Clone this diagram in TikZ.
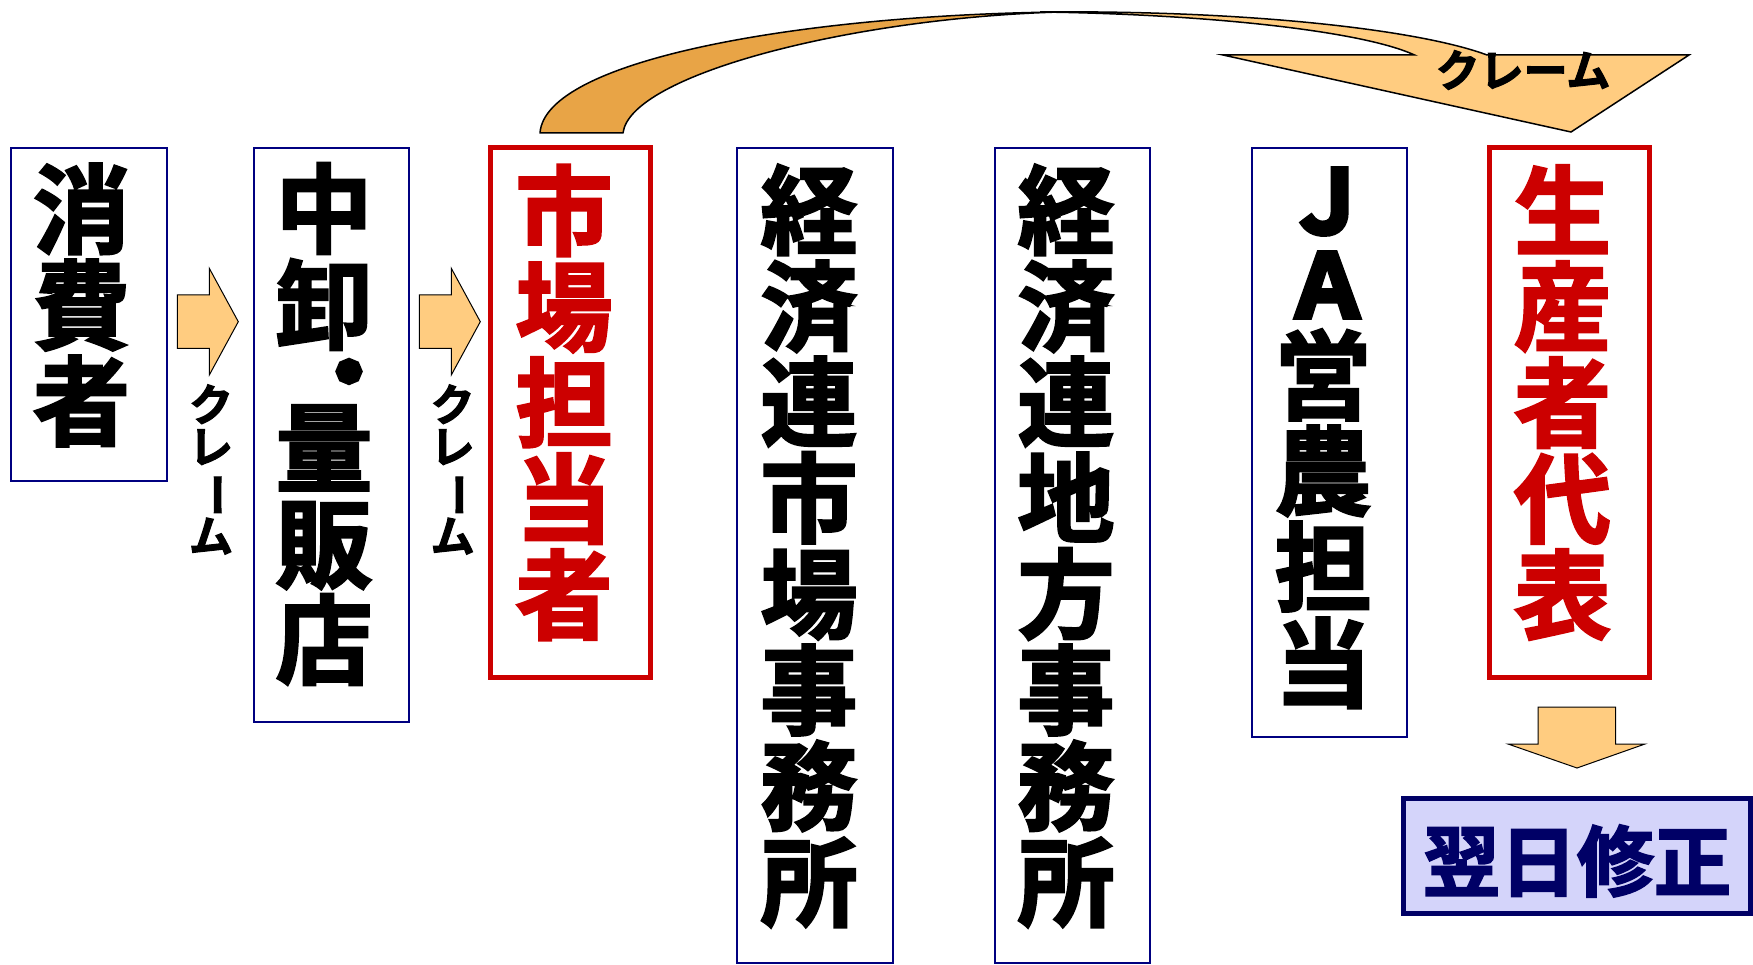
\documentclass[tikz,border=0pt]{standalone}
\usepackage{fontspec}
\usepackage{graphicx}
\newfontfamily\jp{Noto Sans CJK JP}[UprightFont=* Bold, FakeBold=2.5]
\newfontfamily\jpsm{Noto Sans CJK JP}[UprightFont=* Bold, FakeBold=2.5]
\newfontfamily\jplat{Noto Sans CJK JP}[UprightFont=* Bold, FakeBold=6]
\newfontfamily\jpdot{Noto Sans CJK JP}[UprightFont=* Bold, FakeBold=40]
\definecolor{navy}{HTML}{000080}
\definecolor{darknavy}{HTML}{000066}
\definecolor{myred}{HTML}{CC0000}
\definecolor{peach}{HTML}{FFCC80}
\definecolor{darkpeach}{HTML}{E8A446}
\definecolor{lav}{HTML}{D4D4FA}
\tikzset{
  nbox/.style={draw=navy, line width=2pt, rectangle, inner sep=0pt},
  rbox/.style={draw=myred, line width=5pt, rectangle, inner sep=0pt},
  bigtxt/.style={font={\jp\fontsize{97}{96}\selectfont}, align=center, inner sep=0pt},
  midtxt/.style={font={\jplat\fontsize{87}{87}\selectfont}, align=center, inner sep=0pt},
  dottxt/.style={font={\jpdot\fontsize{40}{40}\selectfont}, inner sep=0pt},
  smalltxt/.style={font={\jpsm\fontsize{44}{42}\selectfont}, align=center, inner sep=0pt},
  blockarrow/.style={draw=black, line width=1pt, fill=peach, line join=miter},
}
\newcommand{\vbar}{\rotatebox[origin=c]{-90}{ー}}
\begin{document}
\begin{tikzpicture}[x=1pt,y=-1pt]
\useasboundingbox (0,0) rectangle (1753,965);
% boxes
\node[nbox, minimum width=156pt, minimum height=333pt] (b1) at (89,314.5) {};
\node[nbox, minimum width=155pt, minimum height=574pt] (b2) at (331,435) {};
\node[rbox, minimum width=160pt, minimum height=529.7pt] (b3) at (570.5,412.65) {};
\node[nbox, minimum width=156pt, minimum height=815pt] (b4) at (815,555.5) {};
\node[nbox, minimum width=155.5pt, minimum height=815pt] (b5) at (1072.25,555.5) {};
\node[nbox, minimum width=155pt, minimum height=589pt] (b6) at (1329.5,442.5) {};
\node[rbox, minimum width=160pt, minimum height=529.7pt] (b7) at (1569.5,412.65) {};
\node[draw=darknavy, fill=lav, line width=5pt, rectangle, inner sep=0pt, minimum width=347pt, minimum height=115pt] (b8) at (1576.5,856) {};
% texts
\node[bigtxt] (t1) at (81.5,305) {消\\費\\者};
\node[bigtxt] (t2a) at (324,256.5) {中\\卸};
\node[dottxt] (t2b) at (349,376.5) {・};
\node[bigtxt] (t2c) at (324,545) {量\\販\\店};
\node[bigtxt, text=myred] (t3) at (564,402.5) {市\\場\\担\\当\\者};
\node[bigtxt] (t4) at (809,546) {経\\済\\連\\市\\場\\事\\務\\所};
\node[bigtxt] (t5) at (1066,546) {経\\済\\連\\地\\方\\事\\務\\所};
\node[midtxt] (t6a) at (1327,201.5) {Ｊ};
\node[midtxt] (t6b) at (1327.5,285) {Ａ};
\node[bigtxt] (t6c) at (1323,518.75) {営\\農\\担\\当};
\node[bigtxt, text=myred] (t7) at (1562.5,402.5) {生\\産\\者\\代\\表};
\node[font={\jp\fontsize{77}{80}\selectfont}, text=darknavy, inner sep=0pt] (t8) at (1577,861) {翌日修正};
% right block arrows
\draw[blockarrow] (177.3,295) -- (209.3,295) -- (209.3,268.3) -- (238.3,321.7) -- (209.3,375) -- (209.3,348.3) -- (177.3,348.3) -- cycle;
\begin{scope}[xshift=242pt]
\draw[blockarrow] (177.3,295) -- (209.3,295) -- (209.3,268.3) -- (238.3,321.7) -- (209.3,375) -- (209.3,348.3) -- (177.3,348.3) -- cycle;
\end{scope}
\node[smalltxt] (l1) at (211,469.5) {ク\\レ\\\vbar\\ム};
\node[smalltxt] (l2) at (452.6,469.5) {ク\\レ\\\vbar\\ム};
% down block arrow
\draw[blockarrow] (1538,707) -- (1615.5,707) -- (1615.5,744) -- (1645,744) -- (1577,768) -- (1508,744) -- (1538,744) -- cycle;
% curved arrow: dark back part
\draw[line width=1.5pt, fill=darkpeach, line join=round] (540,133) .. controls (545,60) and (800,15) .. (1060,12)
  .. controls (850,18) and (630,75) .. (623,133) -- cycle;
% light front part with head
\draw[line width=1.5pt, fill=peach, line join=miter] (1040,12) .. controls (1250,10) and (1420,30) .. (1487,55)
  -- (1689,55) -- (1571,132) -- (1223,55) -- (1414.5,55)
  .. controls (1360,30) and (1200,14) .. (1040,12) -- cycle;
\node[smalltxt] (l3) at (1523,70) {クレーム};
\end{tikzpicture}
\end{document}
